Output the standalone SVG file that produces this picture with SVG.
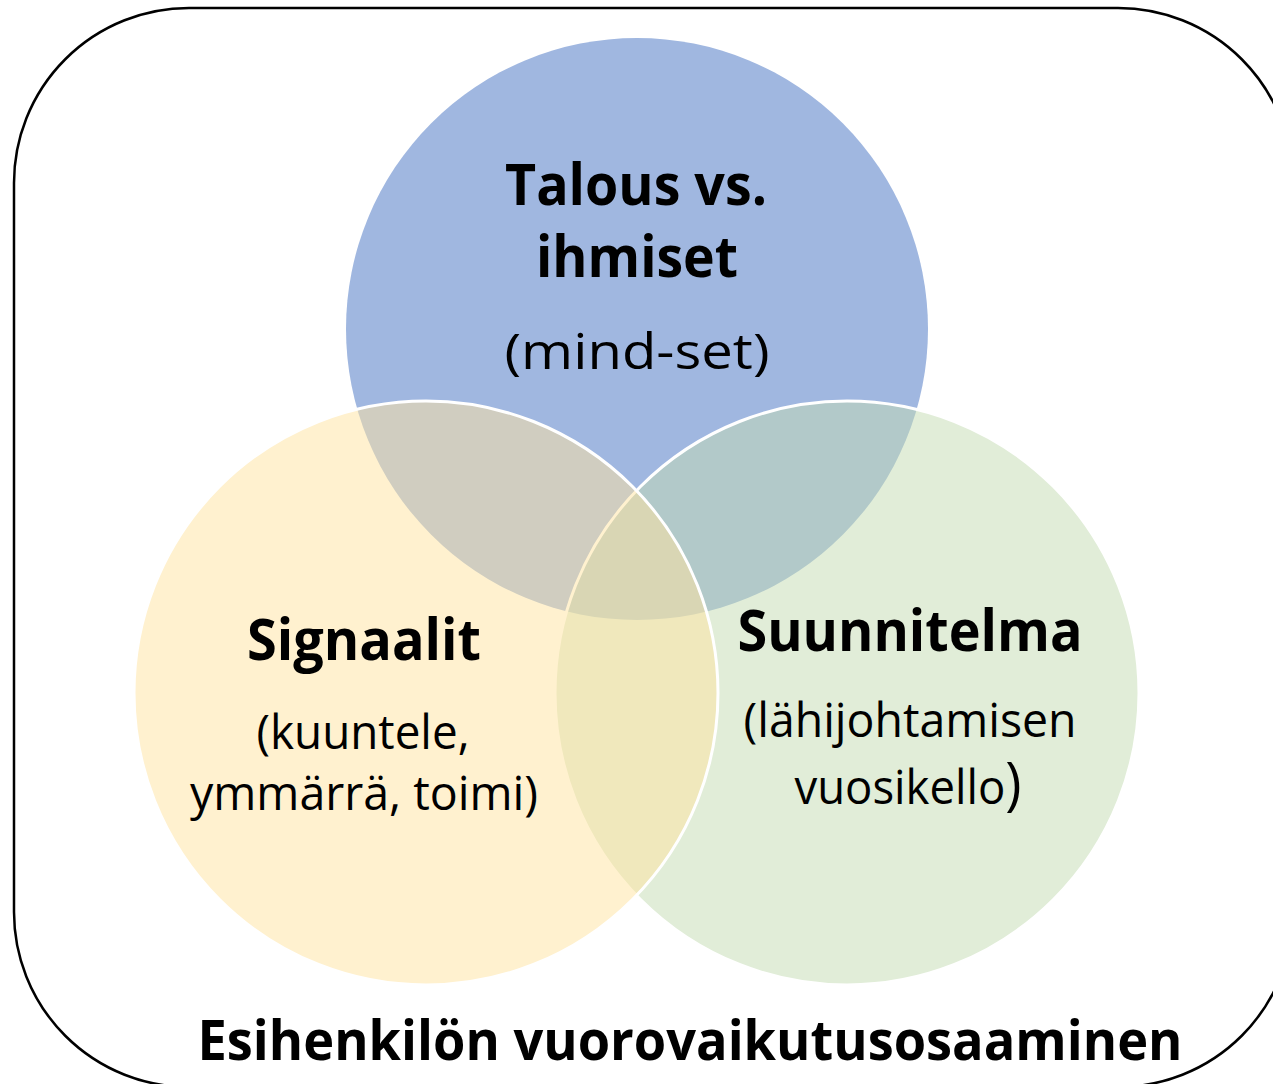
<svg xmlns="http://www.w3.org/2000/svg" width="1273" height="1084" viewBox="0 0 1273 1084">
<style>
.frame{fill:none;stroke:#000;stroke-width:2.5}
.c{stroke:#fff;stroke-width:3}
.t{font-family:"Open Sans","Noto Sans","Liberation Sans",sans-serif;fill:#000;text-anchor:middle}
.b{font-weight:bold;font-size:58px}
.r{font-weight:normal;font-size:48px}
</style>
<rect width="1273" height="1084" fill="#fff"/>
<g id="frame"><rect class="frame" x="14" y="8" width="1279" height="1079" rx="175" ry="175"/></g>
<g id="circle-blue"><circle cx="637" cy="329" r="291" fill="#A0B7E0" stroke="none"/></g>
<g id="circle-green"><circle class="c" cx="847" cy="693" r="292" fill="#C3DBB1" fill-opacity="0.5"/></g>
<g id="circle-yellow"><circle class="c" cx="426" cy="693" r="292" fill="#FFE39F" fill-opacity="0.5"/></g>
<g id="connectors"></g>
<g id="node-talous">
<text class="t b" x="636" y="205" textLength="262" lengthAdjust="spacingAndGlyphs">Talous vs.</text>
<text class="t b" x="637" y="277" textLength="202" lengthAdjust="spacingAndGlyphs">ihmiset</text>
<text class="t r" x="637" y="369" textLength="265" lengthAdjust="spacingAndGlyphs" style="font-size:50px">(mind-set)</text>
</g>
<g id="node-signaalit">
<text class="t b" x="364" y="660" textLength="234" lengthAdjust="spacingAndGlyphs">Signaalit</text>
<text class="t r" x="363" y="749" textLength="213" lengthAdjust="spacingAndGlyphs">(kuuntele,</text>
<text class="t r" x="364" y="810" textLength="348" lengthAdjust="spacingAndGlyphs">ymmärrä, toimi)</text>
</g>
<g id="node-suunnitelma">
<text class="t b" x="910" y="651" textLength="345" lengthAdjust="spacingAndGlyphs">Suunnitelma</text>
<text class="t r" x="910" y="737" textLength="333" lengthAdjust="spacingAndGlyphs">(lähijohtamisen</text>
<text class="t r" x="908" y="804" textLength="227" lengthAdjust="spacingAndGlyphs">vuosikello<tspan style="font-size:58px">)</tspan></text>
</g>
<g id="label-bottom">
<text class="t" x="690" y="1060" style="font-weight:bold;font-size:56px" textLength="985" lengthAdjust="spacingAndGlyphs">Esihenkilön vuorovaikutusosaaminen</text>
</g>
</svg>
